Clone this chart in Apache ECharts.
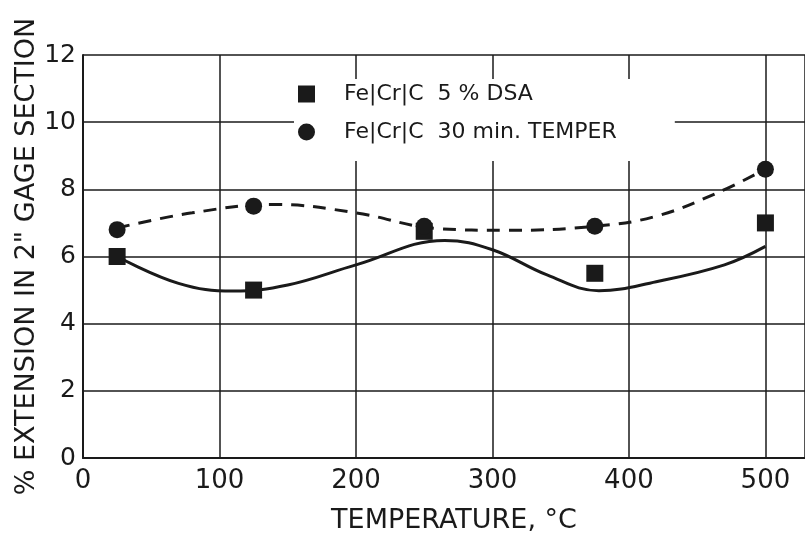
<!DOCTYPE html>
<html>
<head>
<meta charset="utf-8">
<script src="https://cdn.jsdelivr.net/npm/echarts@6/dist/echarts.min.js"></script>
<style>html,body{margin:0;padding:0;background:#fff;}#c{width:805px;height:542px;}</style>
</head>
<body>
<div id="c"></div>
<script>
// Measured points
const dsaTemps = [25, 125, 250, 375, 500];
const dsaValues = [6.0, 5.0, 6.75, 5.5, 7.0];
const temperTemps = [25, 125, 250, 375, 500];
const temperValues = [6.8, 7.5, 6.9, 6.9, 8.6];
// Hand-drawn fit curves
const dsaCurveTemps = [25, 70, 110, 150, 200, 265, 300, 340, 378, 420, 470, 500];
const dsaCurveValues = [6.0, 5.2, 4.97, 5.15, 5.75, 6.48, 6.2, 5.45, 4.98, 5.25, 5.75, 6.3];
const temperCurveTemps = [25, 80, 140, 200, 260, 310, 375, 420, 465, 500];
const temperCurveValues = [6.85, 7.3, 7.55, 7.3, 6.83, 6.78, 6.9, 7.2, 7.9, 8.6];
const xTicks = ['0', '100', '200', '300', '400', '500'];
const seriesNames = ['Fe|Cr|C  5 % DSA', 'Fe|Cr|C  30 min. TEMPER'];

const zip = (a, b) => a.map((v, i) => [v, b[i]]);
const ink = '#1a1a1a';
const font = 'DejaVu Sans';

const chart = echarts.init(document.getElementById('c'), null, {renderer: 'canvas'});
chart.setOption({
  backgroundColor: '#ffffff',
  animation: false,
  grid: {left: 83, top: 55, bottom: 84, right: 0, containLabel: false, outerBoundsMode: 'none'},
  legend: {
    orient: 'vertical',
    left: 294, top: 79,
    itemWidth: 17, itemHeight: 17,
    itemGap: 16,
    padding: [4, 58, 18, 4],
    backgroundColor: '#ffffff',
    data: [
      {name: seriesNames[0], icon: 'rect'},
      {name: seriesNames[1], icon: 'circle'}
    ],
    textStyle: {fontFamily: font, fontSize: 22, color: ink, padding: [0, 0, 0, 24]}
  },
  xAxis: {
    type: 'value', min: 0, max: 529, interval: 100,
    name: 'TEMPERATURE, °C', nameLocation: 'middle', nameGap: 49,
    nameTextStyle: {fontFamily: font, fontSize: 27, color: ink, padding: [0, 0, 0, 20]},
    axisLine: {show: true, onZero: false, lineStyle: {color: ink, width: 2}},
    axisTick: {show: false},
    axisLabel: {
      fontFamily: font, fontSize: 26, color: ink, margin: 10, showMaxLabel: false,
      formatter: v => xTicks[Math.round(v / 100)] ?? ''
    },
    splitLine: {show: true, lineStyle: {color: ink, width: 1.5}}
  },
  yAxis: {
    type: 'value', min: 0, max: 12, interval: 2,
    name: '% EXTENSION IN 2" GAGE SECTION', nameLocation: 'middle', nameGap: 43,
    nameMoveOverlap: false,
    nameTextStyle: {fontFamily: font, fontSize: 27, color: ink},
    axisLine: {show: true, lineStyle: {color: ink, width: 2}},
    axisTick: {show: false},
    axisLabel: {fontFamily: font, fontSize: 25, color: ink, margin: 7},
    splitLine: {show: true, lineStyle: {color: ink, width: 1.5}}
  },
  series: [
    {
      name: seriesNames[0], type: 'scatter', symbol: 'rect', symbolSize: 17,
      itemStyle: {color: ink, opacity: 1}, data: zip(dsaTemps, dsaValues), z: 5
    },
    {
      name: seriesNames[1], type: 'scatter', symbol: 'circle', symbolSize: 17,
      itemStyle: {color: ink, opacity: 1}, data: zip(temperTemps, temperValues), z: 5
    },
    {
      name: 'dsaFit', type: 'line', smooth: 0.4, showSymbol: false, symbol: 'none',
      lineStyle: {color: ink, width: 3}, data: zip(dsaCurveTemps, dsaCurveValues), z: 4
    },
    {
      name: 'temperFit', type: 'line', smooth: 0.4, showSymbol: false, symbol: 'none',
      lineStyle: {color: ink, width: 3, type: [13, 9]}, data: zip(temperCurveTemps, temperCurveValues), z: 4
    }
  ]
});
</script>
</body>
</html>
